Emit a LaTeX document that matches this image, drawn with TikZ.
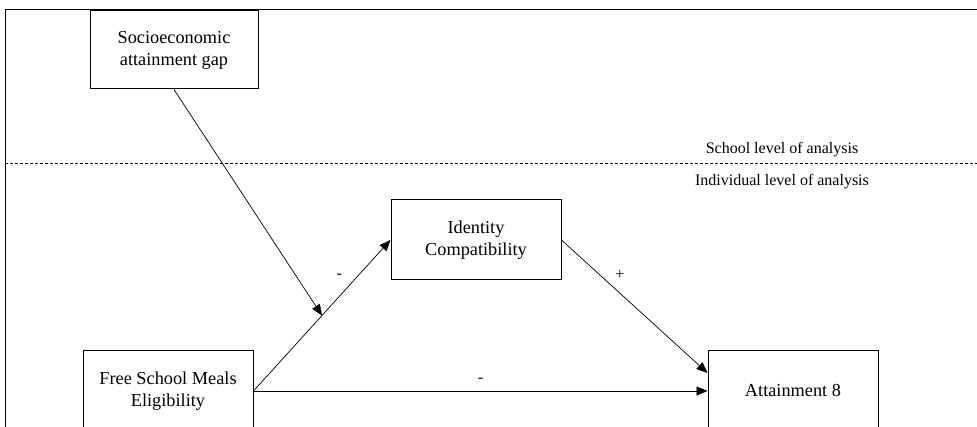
\documentclass[tikz,border=0pt]{standalone}
\usepackage{fontspec}
\setmainfont{Liberation Serif}
\usetikzlibrary{arrows.meta}
\tikzset{
  box/.style={draw, line width=1pt, minimum width=170pt, minimum height=80pt, align=center, inner sep=0pt, font=\fontsize{18.3}{22}\selectfont},
  lvl/.style={font=\fontsize{16}{18}\selectfont, inner sep=0pt},
  sgn/.style={font=\fontsize{16}{18}\selectfont, inner sep=0pt},
  link/.style={line width=0.7pt, -{Triangle[length=11pt,width=9pt]}}
}
\begin{document}
\begin{tikzpicture}[x=1pt,y=-1pt]
      \useasboundingbox (0,0) rectangle (977,427);
      \clip (0,0) rectangle (977,427);
      \draw[line width=1pt] (5,10) rectangle (1000,460);
      \draw[dashed, line width=0.6pt, dash pattern=on 3pt off 2pt] (5,163) -- (977,163);

      \node[box, minimum width=168pt, minimum height=78pt] (1) at (174,50) {Socioeconomic\\attainment gap};
      \node[box] (2) at (476,240) {Identity\\Compatibility};
      \node[box] (3) at (168,391) {Free School Meals\\Eligibility};
      \node[box] (4) at (793,391) {Attainment 8};

      \node[lvl] (5) at (782,150) {School level of analysis};
      \node[lvl] (6) at (782,182) {Individual level of analysis};

      \draw[link] (3.east) -- coordinate[pos=0.5] (m) node[sgn, pos=0.64, xshift=-2pt, yshift=18pt] {-} (2.west);
      \draw[link] (2.east) -- node[sgn, pos=0.4, yshift=18pt] {+} ([yshift=18pt]4.west);
      \draw[link] (3.east) -- node[sgn, pos=0.5, yshift=11pt] {-} (4.west);
      \draw[link] (1.south) -- (m);
    \end{tikzpicture}
\end{document}
